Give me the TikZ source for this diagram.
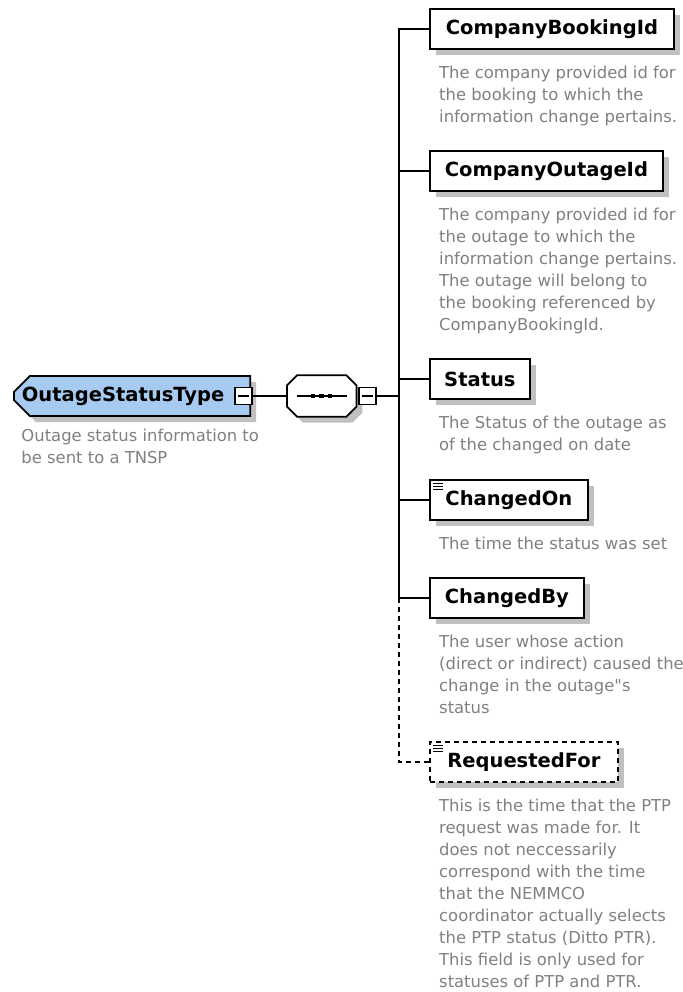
\documentclass[tikz,border=0pt]{standalone}
\usepackage{fontspec}
\setmainfont{DejaVu Sans}[Ligatures=TeXOff]
\usepackage{xcolor}
\definecolor{root-blue}{HTML}{A6CAF0}
\definecolor{desc-gray}{HTML}{808080}
\definecolor{shade-gray}{HTML}{C0C0C0}
\usepackage{tikz}
\usetikzlibrary{positioning}
\usetikzlibrary{shapes.misc}
\usetikzlibrary{shadows}
\tikzset{shade/.style = {drop shadow={shadow xshift=6pt, shadow yshift=-6pt, fill=shade-gray, opacity=1}}}
\tikzset{elem/.style = {draw, shade, line width=1.8pt, fill=white, anchor=west, minimum height=40pt, inner sep=0pt, font=\fontsize{19.5}{22}\selectfont\bfseries}}
\tikzset{root/.style = {elem, chamfered rectangle, chamfered rectangle corners={north west, south west}, chamfered rectangle xsep=8pt, chamfered rectangle ysep=8pt, fill=root-blue}}
\tikzset{seq/.style = {anchor=west, minimum width=69pt, minimum height=41pt, inner sep=0pt}}
\tikzset{seqline/.style = {draw, shade, fill=white, line width=1.8pt}}
\tikzset{desc/.style = {align=left, inner sep=0pt, text=desc-gray, font=\fontsize{16.4}{22}\selectfont}}
\tikzset{minus/.style = {draw, line width=1.5pt, fill=white, minimum size=17pt, inner sep=0pt,
  path picture={\draw[line width=1.5pt] ([xshift=3pt]path picture bounding box.west) -- ([xshift=-3pt]path picture bounding box.east);}}}
\tikzset{dot/.style = {fill, minimum size=4.5pt, inner sep=0pt}}
\tikzset{link/.style = {line width=1.6pt}}
\tikzset{opt/.style = {dash pattern=on 5pt off 4pt}}

\begin{document}
\begin{tikzpicture}[x=1pt, y=-1pt]
\useasboundingbox (0,0) rectangle (682,992);

\node[root, minimum width=234pt] (r0) at (13,396) {OutageStatusType\hspace*{18pt}};
\node[minus] (m0) at (243.5,396) {};
\node[seq] (s0) at (287,396) {};
\path[seqline] ([xshift=10pt]s0.north west) -- ([xshift=-10pt]s0.north east) -- ([yshift=-10pt]s0.north east)
  -- ([yshift=10pt]s0.south east) -- ([xshift=-10pt]s0.south east) -- ([xshift=10pt]s0.south west)
  -- ([yshift=10pt]s0.south west) -- ([yshift=-10pt]s0.north west) -- cycle;
\node[minus] (m1) at (367.5,396) {};
\draw[line width=1.3pt] ([xshift=-25pt]s0.center) -- ([xshift=25pt]s0.center);
\foreach \dx in {-8.5,0,8.5}
  \node[dot] at ([xshift=\dx pt]s0.center) {};
\coordinate (tk) at (399,396);

\node[elem, minimum width=244pt] (e1) at (429,29) {CompanyBookingId};
\node[elem, minimum width=233pt] (e2) at (429,171) {CompanyOutageId};
\node[elem, minimum width=100pt] (e3) at (429,379) {Status};
\node[elem, minimum width=158pt] (e4) at (429,500) {ChangedOn};
\node[elem, minimum width=154pt] (e5) at (429,598) {ChangedBy};
\node[elem, opt, minimum width=188pt] (e6) at (429,762) {RequestedFor};

% little text icons
\foreach \n in {e4,e6}
  \foreach \dy in {4,7,10}
    \draw[line width=1.2pt] ([xshift=4pt,yshift=-\dy pt]\n.north west) -- ++(10,0);

\node[desc, below right=20pt and 0pt of r0.south west] (d0) {Outage status information to\\be sent to a TNSP};
\node[desc, below right=16pt and 10pt of e1.south west] (d1) {The company provided id for\\the booking to which the\\information change pertains.};
\node[desc, below right=16pt and 10pt of e2.south west] (d2) {The company provided id for\\the outage to which the\\information change pertains.\\The outage will belong to\\the booking referenced by\\CompanyBookingId.};
\node[desc, below right=16pt and 10pt of e3.south west] (d3) {The Status of the outage as\\of the changed on date};
\node[desc, below right=16pt and 10pt of e4.south west] (d4) {The time the status was set};
\node[desc, below right=16pt and 10pt of e5.south west] (d5) {The user whose action\\(direct or indirect) caused the\\change in the outage"s\\status};
\node[desc, below right=16pt and 10pt of e6.south west] (d6) {This is the time that the PTP\\request was made for. It\\does not neccessarily\\correspond with the time\\that the NEMMCO\\coordinator actually selects\\the PTP status (Ditto PTR).\\This field is only used for\\statuses of PTP and PTR.};

\draw[link] (m0) -- (s0);
\draw[link] (m1) -- (tk);
\foreach \e in {e1,e2,e3,e4,e5}
  \draw[link] (\e.west) -| (tk);
\draw[link, opt] (e6.west) -| (tk |- e5.west);

\end{tikzpicture}
\end{document}
